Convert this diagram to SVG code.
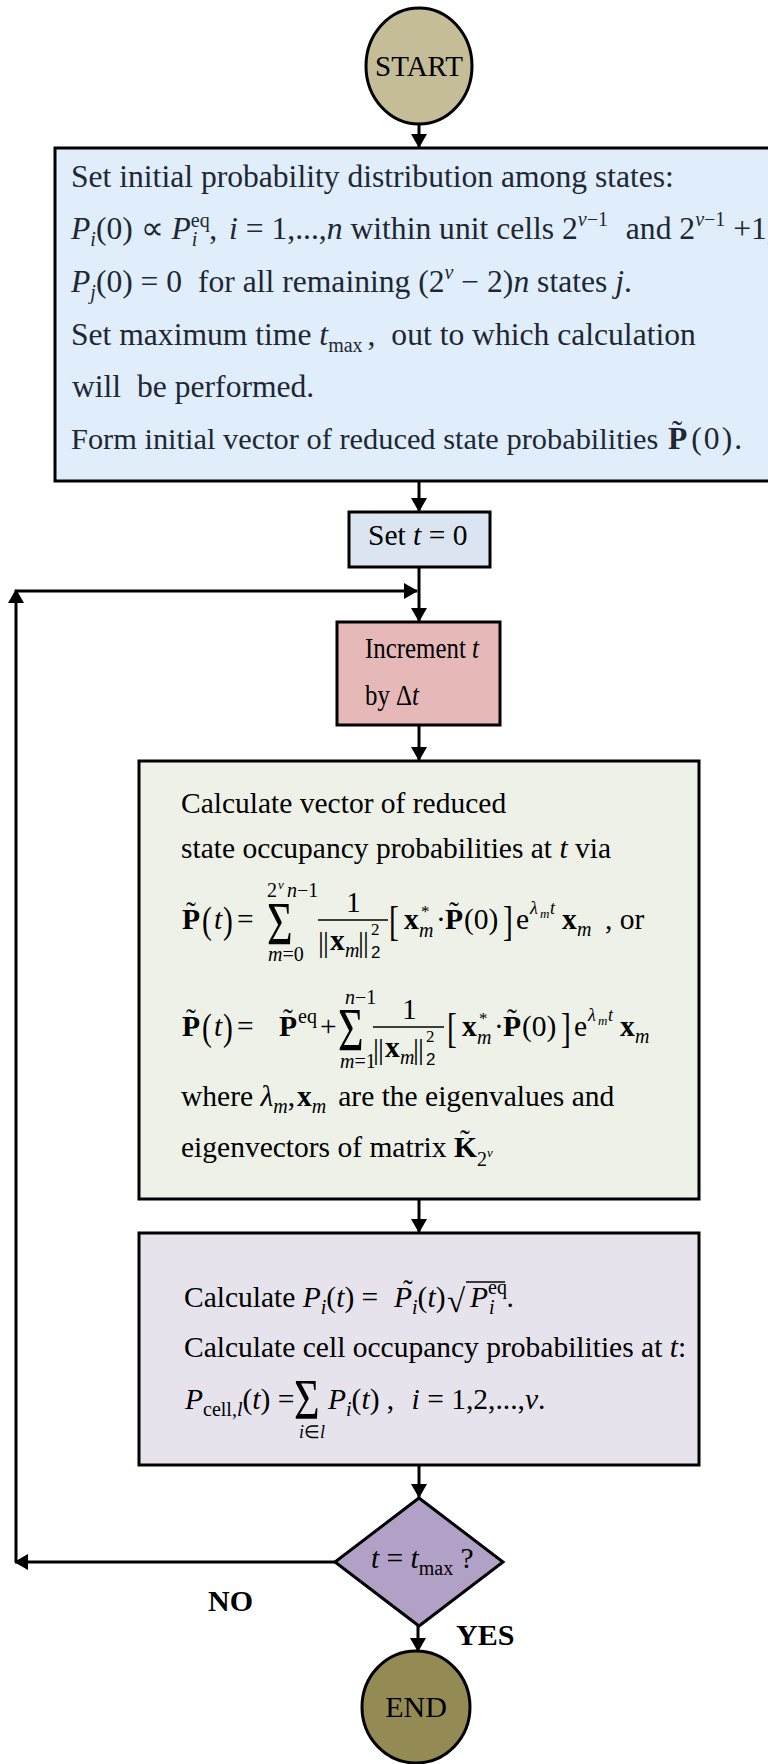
<svg xmlns="http://www.w3.org/2000/svg" width="768" height="1764" viewBox="0 0 768 1764">
<defs>
<style>
svg { font-family: "Liberation Serif", "Times New Roman", serif; font-size: 29.5px; }
text { fill: #000; }
.b1 { font-size: 31.6px; fill: #1e2733; }
.i { font-style: italic; }
.bf { font-weight: bold; }
.s { font-size: 20px; }
.ss { font-size: 13px; }
.node { stroke: #000; stroke-width: 3; }
.conn { stroke: #000; stroke-width: 3; fill: none; }
.bar { stroke: #000; stroke-width: 1.4; }
.lbl { font-weight: bold; font-size: 30px; }
</style>
<marker id="ah" viewBox="0 0 14 16" refX="13" refY="8" markerWidth="14" markerHeight="16" markerUnits="userSpaceOnUse" orient="auto">
<path d="M0,0 L14,8 L0,16 z" fill="#000"/>
</marker>
</defs>
<rect width="768" height="1764" fill="#fff"/>

<g id="connectors">
<line class="conn" x1="419" y1="124" x2="419" y2="147" marker-end="url(#ah)"/>
<line class="conn" x1="419" y1="482" x2="419" y2="511" marker-end="url(#ah)"/>
<line class="conn" x1="419" y1="567" x2="419" y2="621" marker-end="url(#ah)"/>
<line class="conn" x1="419" y1="725" x2="419" y2="760" marker-end="url(#ah)"/>
<line class="conn" x1="419" y1="1199" x2="419" y2="1232" marker-end="url(#ah)"/>
<line class="conn" x1="419" y1="1466" x2="419" y2="1497" marker-end="url(#ah)"/>
<line class="conn" x1="418" y1="1626" x2="418" y2="1651" marker-end="url(#ah)"/>
<line class="conn" x1="335" y1="1562" x2="15" y2="1562" marker-end="url(#ah)"/>
<line class="conn" x1="16" y1="1562" x2="16" y2="590" marker-end="url(#ah)"/>
<line class="conn" x1="15" y1="591" x2="417" y2="591" marker-end="url(#ah)"/>
<text class="lbl" x="208" y="1611">NO</text>
<text class="lbl" x="456" y="1645">YES</text>
</g>

<g id="start">
<ellipse class="node" cx="419" cy="66" rx="53" ry="58" fill="#c4bd97"/>
<text x="419" y="76" text-anchor="middle" font-size="29">START</text>
</g>

<g id="init">
<rect class="node" x="55" y="148" width="730" height="333" fill="#e0eefb"/>
<text class="b1" x="71" y="187">Set initial probability distribution among states:</text>
<text class="b1" x="71" y="239"><tspan class="i">P</tspan><tspan class="s i" dy="7">i</tspan><tspan dy="-7">(0) ∝ </tspan><tspan class="i">P</tspan><tspan class="s" dy="-12">eq</tspan><tspan class="s i" dx="-18" dy="19">i</tspan><tspan dx="12" dy="-7">, </tspan><tspan class="i" dx="4">i</tspan><tspan> = 1,...,</tspan><tspan class="i">n</tspan><tspan> within unit cells 2</tspan><tspan class="s" dy="-13"><tspan class="i">ν</tspan>−1</tspan><tspan dy="13" dx="10"> and 2</tspan><tspan class="s" dy="-13"><tspan class="i">ν</tspan>−1</tspan><tspan dy="13" dx="0"> +1,</tspan></text>
<text class="b1" x="71" y="292"><tspan class="i">P</tspan><tspan class="s i" dy="7">j</tspan><tspan dy="-7">(0) = 0</tspan><tspan dx="8"> for all remaining (2</tspan><tspan class="s i" dy="-13">ν</tspan><tspan dy="13"> − 2)</tspan><tspan class="i">n</tspan><tspan> states </tspan><tspan class="i">j</tspan><tspan>.</tspan></text>
<text class="b1" x="71" y="345"><tspan>Set maximum time </tspan><tspan class="i">t</tspan><tspan class="s" dy="7">max</tspan><tspan dy="-7" dx="5">, </tspan><tspan dx="8">out to which calculation</tspan></text>
<text class="b1" x="72" y="397">will<tspan dx="8"> be performed.</tspan></text>
<text class="b1" x="71" y="449" style="font-size:30.4px">Form initial vector of reduced state probabilities</text>
<text class="b1" x="668" y="449"><tspan class="bf">P</tspan><tspan dx="4" letter-spacing="2">(0).</tspan></text>
<text class="b1" x="677" y="442" text-anchor="middle">˜</text>
</g>

<g id="set-t">
<rect class="node" x="349" y="512" width="141" height="55" fill="#dbe5f1"/>
<text x="368" y="545" fill="#1e2733">Set <tspan class="i">t</tspan> = 0</text>
</g>

<g id="increment">
<rect class="node" x="337" y="622" width="163" height="103" fill="#e6b9b8"/>
<text x="365" y="658" textLength="114" lengthAdjust="spacingAndGlyphs">Increment <tspan class="i">t</tspan></text>
<text x="365" y="705" textLength="54" lengthAdjust="spacingAndGlyphs">by Δ<tspan class="i">t</tspan></text>
</g>

<g id="calc-vector">
<rect class="node" x="139" y="761" width="560" height="438" fill="#eef1e8"/>
<text x="181" y="813">Calculate vector of reduced</text>
<text x="181" y="858">state occupancy probabilities at <tspan class="i">t</tspan> via</text>
<!-- formula 1 -->
<text class="bf" x="182" y="929">P</text>
<text x="191" y="922" text-anchor="middle">˜</text>
<text transform="translate(202,933) scale(1,1.3)">(</text>
<text class="i" x="214" y="929">t</text>
<text transform="translate(223,933) scale(1,1.3)">)</text>
<text x="237" y="929">=</text>
<text transform="translate(267,944) scale(1,1.4)" font-size="44">Σ</text>
<text class="s" x="267" y="897">2</text><text class="ss i" x="278" y="889">ν</text><text class="s" x="287" y="897"><tspan class="i">n</tspan>−1</text>
<text class="s" x="268" y="961"><tspan class="i">m</tspan>=0</text>
<text x="346" y="912">1</text>
<line class="bar" x1="318" y1="920" x2="388" y2="920"/>
<text x="318" y="952" letter-spacing="-1">||</text><text class="bf" x="330" y="950">x</text><text class="s i" x="345" y="957">m</text><text x="358" y="952" letter-spacing="-1">||</text>
<text font-size="17" x="371" y="935">2</text><text font-size="17" x="371" y="958" font-family="Liberation Sans, sans-serif">2</text>
<text transform="translate(389,935) scale(1,1.45)">[</text>
<text class="bf" x="404" y="929">x</text><text font-size="17" x="421" y="917">*</text><text class="s i" x="419" y="937">m</text>
<text x="436" y="929">·</text>
<text class="bf" x="445" y="929">P</text><text x="454" y="922" text-anchor="middle">˜</text>
<text x="464" y="929">(0)</text>
<text transform="translate(503,935) scale(1,1.45)">]</text>
<text x="516" y="929">e</text>
<text class="i" font-size="18" x="530" y="914">λ</text><text class="ss i" x="540" y="918">m</text><text class="i" font-size="18" x="550" y="914">t</text>
<text class="bf" x="562" y="929">x</text><text class="s i" x="577" y="936">m</text>
<text x="605" y="929">, or</text>
<!-- formula 2 -->
<text class="bf" x="182" y="1036">P</text>
<text x="191" y="1029" text-anchor="middle">˜</text>
<text transform="translate(202,1040) scale(1,1.3)">(</text>
<text class="i" x="214" y="1036">t</text>
<text transform="translate(223,1040) scale(1,1.3)">)</text>
<text x="237" y="1036">=</text>
<text class="bf" x="279" y="1036">P</text><text x="288" y="1029" text-anchor="middle">˜</text>
<text class="s" x="298" y="1023">eq</text>
<text x="320" y="1036">+</text>
<text transform="translate(338,1050) scale(1,1.4)" font-size="44">Σ</text>
<text class="s" x="345" y="1004"><tspan class="i">n</tspan>−1</text>
<text class="s" x="340" y="1068"><tspan class="i">m</tspan>=1</text>
<text x="402" y="1019">1</text>
<line class="bar" x1="373" y1="1027" x2="444" y2="1027"/>
<text x="373" y="1059" letter-spacing="-1">||</text><text class="bf" x="385" y="1057">x</text><text class="s i" x="400" y="1064">m</text><text x="413" y="1059" letter-spacing="-1">||</text>
<text font-size="17" x="426" y="1042">2</text><text font-size="17" x="426" y="1065" font-family="Liberation Sans, sans-serif">2</text>
<text transform="translate(447,1042) scale(1,1.45)">[</text>
<text class="bf" x="462" y="1036">x</text><text font-size="17" x="479" y="1024">*</text><text class="s i" x="477" y="1044">m</text>
<text x="494" y="1036">·</text>
<text class="bf" x="503" y="1036">P</text><text x="512" y="1029" text-anchor="middle">˜</text>
<text x="522" y="1036">(0)</text>
<text transform="translate(561,1042) scale(1,1.45)">]</text>
<text x="574" y="1036">e</text>
<text class="i" font-size="18" x="588" y="1021">λ</text><text class="ss i" x="598" y="1025">m</text><text class="i" font-size="18" x="608" y="1021">t</text>
<text class="bf" x="620" y="1036">x</text><text class="s i" x="635" y="1043">m</text>
<text x="181" y="1106">where <tspan class="i">λ</tspan><tspan class="s i" dy="7">m</tspan><tspan dy="-7">,</tspan><tspan class="bf" dx="2">x</tspan><tspan class="s i" dy="7">m</tspan><tspan dy="-7" dx="12">are the eigenvalues and</tspan></text>
<text x="181" y="1157">eigenvectors of matrix <tspan class="bf" x="454">K</tspan><tspan class="s" dy="9">2</tspan><tspan class="ss i" dy="-9">ν</tspan></text>
<text x="465" y="1150" text-anchor="middle">˜</text>
</g>

<g id="calc-cell">
<rect class="node" x="139" y="1233" width="560" height="232" fill="#e6e3ec"/>
<text x="184" y="1307">Calculate <tspan class="i">P</tspan><tspan class="s i" dy="7">i</tspan><tspan dy="-7">(</tspan><tspan class="i">t</tspan><tspan>) = </tspan><tspan class="i" x="394">P</tspan><tspan class="s i" dy="7">i</tspan><tspan dy="-7">(</tspan><tspan class="i">t</tspan><tspan>)</tspan></text>
<text x="408" y="1300" text-anchor="middle">˜</text>
<text x="447" y="1312" font-size="33">√</text>
<line class="bar" x1="466" y1="1282" x2="505" y2="1282"/>
<text x="470" y="1307"><tspan class="i">P</tspan><tspan class="s" dy="-13">eq</tspan><tspan class="s i" dx="-18" dy="20">i</tspan><tspan dx="12" dy="-7">.</tspan></text>
<text x="184" y="1357">Calculate cell occupancy probabilities at <tspan class="i">t</tspan>:</text>
<text x="185" y="1409"><tspan class="i">P</tspan><tspan class="s" dy="7">cell,<tspan class="i">l</tspan></tspan><tspan dy="-7">(</tspan><tspan class="i">t</tspan><tspan>) = </tspan></text>
<text transform="translate(294,1419) scale(1,1.3)" font-size="44">Σ</text>
<text font-size="18" x="299" y="1438"><tspan class="i">i</tspan>∈<tspan class="i">l</tspan></text>
<text x="328" y="1409"><tspan class="i">P</tspan><tspan class="s i" dy="7">i</tspan><tspan dy="-7">(</tspan><tspan class="i">t</tspan><tspan>) , </tspan><tspan class="i" dx="10">i</tspan><tspan> = 1,2,...,</tspan><tspan class="i">ν</tspan><tspan>.</tspan></text>
</g>

<g id="decision">
<polygon class="node" points="419,1498 503,1562 419,1626 335,1562" fill="#b2a1c7"/>
<text x="371" y="1568"><tspan class="i">t</tspan> = <tspan class="i">t</tspan><tspan class="s" dy="7">max</tspan><tspan dy="-7"> ?</tspan></text>
</g>

<g id="end">
<ellipse class="node" cx="416" cy="1707" rx="54" ry="56" fill="#948a54"/>
<text x="416" y="1717" text-anchor="middle" font-size="30">END</text>
</g>
</svg>
